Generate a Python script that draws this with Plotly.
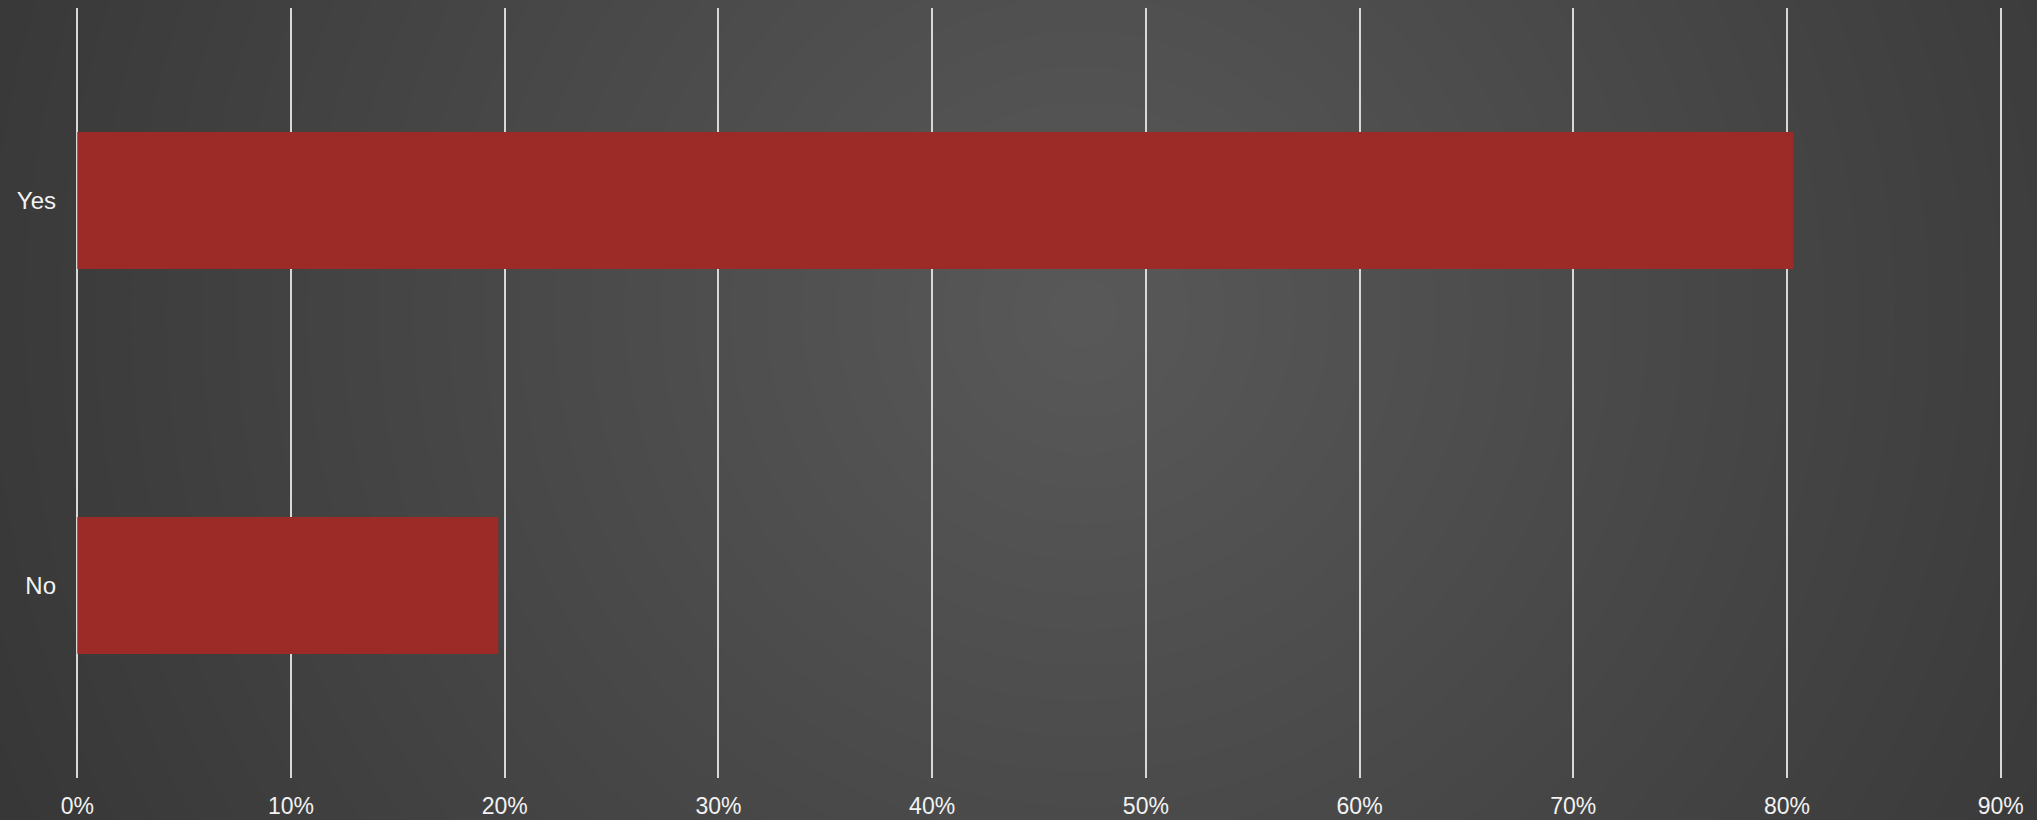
import plotly.graph_objects as go

# Survey answers and their share of respondents
categories = ["No", "Yes"]
shares = [0.197, 0.803]

tick_values = [0.0, 0.1, 0.2, 0.3, 0.4, 0.5, 0.6, 0.7, 0.8, 0.9]
tick_labels = ["0%", "10%", "20%", "30%", "40%", "50%", "60%", "70%", "80%", "90%"]

BAR_COLOR = "#9c2b27"
TEXT_COLOR = "#f2f2f2"
GRID_COLOR = "#d8d8d8"
FONT = "Liberation Sans, Arial, sans-serif"

fig = go.Figure(
    go.Bar(
        x=shares,
        y=categories,
        orientation="h",
        marker=dict(color=BAR_COLOR, line=dict(width=0)),
        width=0.356,
        hoverinfo="x+y",
    )
)

# Radial grey background: concentric discs stepping one grey level each
center_x, center_y = 0.523, 0.604   # paper coordinates
outer_grey, inner_grey = 55, 89
max_radius = 1200
steps = inner_grey - outer_grey
shapes = []
for k in range(steps):
    grey = outer_grey + k
    r = max_radius * (1 - k / steps)
    shapes.append(
        dict(
            type="circle",
            xref="paper", yref="paper",
            xsizemode="pixel", ysizemode="pixel",
            xanchor=center_x, yanchor=center_y,
            x0=-r, x1=r, y0=-r, y1=r,
            fillcolor=f"rgb({grey},{grey},{grey})",
            line=dict(width=0),
            layer="below",
        )
    )

fig.update_layout(
    width=2037,
    height=820,
    margin=dict(l=73, r=32, t=8, b=42, autoexpand=False),
    paper_bgcolor=f"rgb({outer_grey},{outer_grey},{outer_grey})",
    plot_bgcolor="rgba(0,0,0,0)",
    font=dict(family=FONT, size=23, color=TEXT_COLOR),
    shapes=shapes,
    showlegend=False,
    bargap=0.644,
)

fig.update_xaxes(
    range=[-0.002, 0.902],
    tickvals=tick_values,
    ticktext=tick_labels,
    showgrid=True,
    gridcolor=GRID_COLOR,
    gridwidth=2,
    zeroline=False,
    showline=False,
    ticks="",
    automargin=False,
    ticklabelstandoff=12,
    tickfont=dict(family=FONT, size=23, color=TEXT_COLOR),
    fixedrange=True,
)

fig.update_yaxes(
    type="category",
    categoryorder="array",
    categoryarray=categories,
    range=[-0.5, 1.5],
    showgrid=False,
    zeroline=False,
    showline=False,
    ticks="",
    automargin=False,
    ticklabelstandoff=16,
    tickfont=dict(family=FONT, size=24, color=TEXT_COLOR),
    fixedrange=True,
)

fig.write_html("out.html", config={"displayModeBar": False})
